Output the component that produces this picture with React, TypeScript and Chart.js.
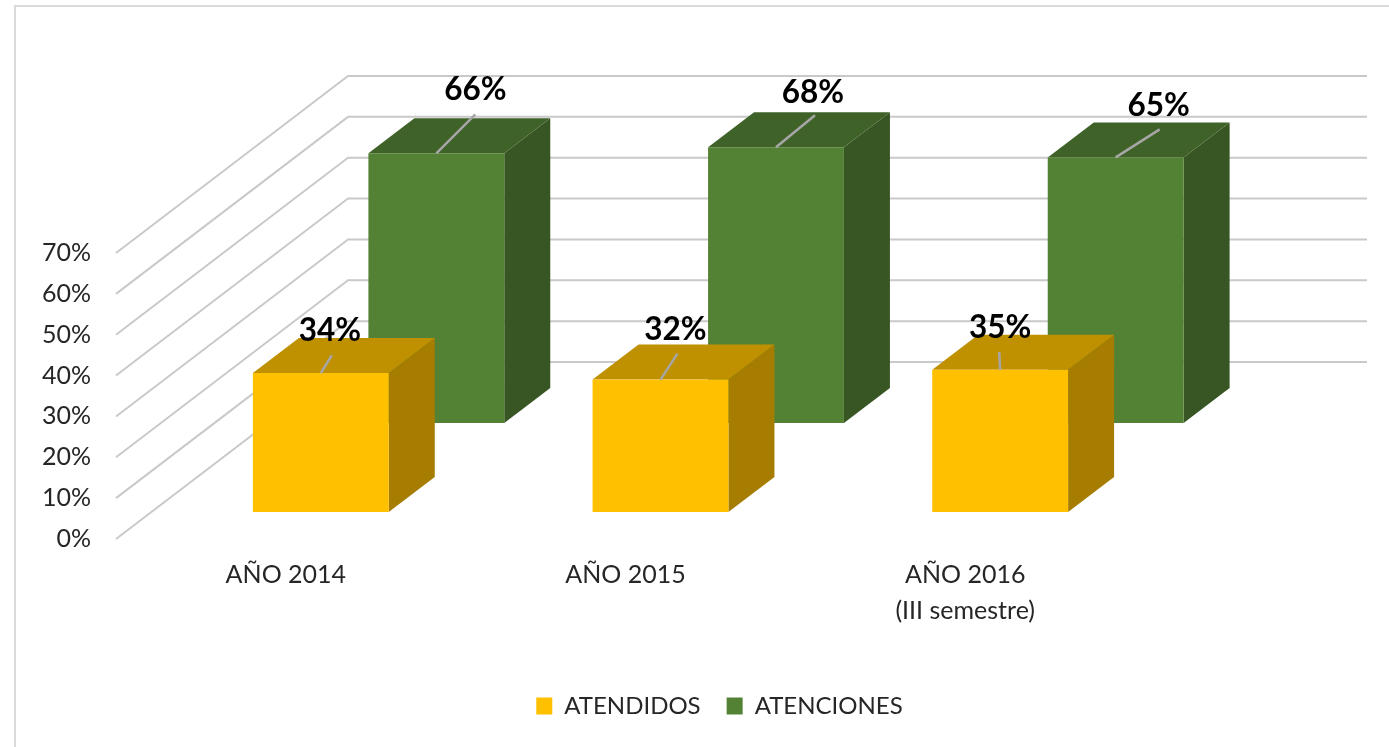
import React, { useEffect, useRef } from "react";
import { Chart, registerables } from "chart.js";

Chart.register(...registerables);

const categories = ["AÑO 2014", "AÑO 2015", ["AÑO 2016", "(III semestre)"]];
const atendidos = [34, 32.4, 34.8];
const atenciones = [66, 67.5, 65];

// Oblique projection and label layout (pixels)
const WALL = { dx: 232, dy: -177 };
const DEPTH = { dx: 46, dy: -35 };
const SERIES_SHIFT = [
  { dx: 35, dy: -27 },
  { dx: 150.5, dy: -116 },
];
const FACE_COLORS = [
  { front: "#FFC000", top: "#BF9000", side: "#A67D00" },
  { front: "#548235", top: "#3F6228", side: "#375623" },
];
const LEADER_ENDS = [
  [[11, -18], [17, -26], [-1, -18]],
  [[39, -39], [39, -32], [44, -28]],
];
const LABEL_OFFSETS = [
  [[9, -42], [15, -50], [0, -42]],
  [[39, -63], [37, -54], [43, -52]],
];

const box3d = {
  id: "box3d",
  beforeDraw(chart: any) {
    const { ctx } = chart;
    ctx.save();
    ctx.strokeStyle = "#D9D9D9";
    ctx.lineWidth = 2;
    ctx.beginPath();
    ctx.moveTo(15, 747);
    ctx.lineTo(15, 6);
    ctx.lineTo(1389, 6);
    ctx.stroke();
    ctx.restore();
  },
  afterLayout(chart: any) {
    const legend = chart.legend;
    legend.left += 152;
    legend.right += 152;
    legend.top -= 19;
    legend.bottom -= 19;
  },
  beforeDatasetsDraw(chart: any) {
    const { ctx, scales } = chart;
    const x = scales.x;
    const y = scales.y;
    ctx.save();
    ctx.strokeStyle = "#C9C9C9";
    ctx.lineWidth = 2;
    ctx.lineJoin = "round";
    y.ticks.forEach((t: any) => {
      const py = y.getPixelForValue(t.value);
      ctx.beginPath();
      ctx.moveTo(x.left, py);
      ctx.lineTo(x.left + WALL.dx, py + WALL.dy);
      ctx.lineTo(x.right + WALL.dx, py + WALL.dy);
      ctx.stroke();
    });
    ctx.restore();
  },
  beforeDatasetDraw(chart: any, args: any) {
    const { ctx } = chart;
    const i = args.index;
    const shift = SERIES_SHIFT[i];
    const colors = FACE_COLORS[i];
    ctx.save();
    ctx.translate(shift.dx, shift.dy);
    args.meta.data.forEach((bar: any) => {
      const { x, y, base, width } = bar.getProps(["x", "y", "base", "width"]);
      const l = x - width / 2;
      const r = x + width / 2;
      ctx.fillStyle = colors.side;
      ctx.beginPath();
      ctx.moveTo(r, y);
      ctx.lineTo(r + DEPTH.dx, y + DEPTH.dy);
      ctx.lineTo(r + DEPTH.dx, base + DEPTH.dy);
      ctx.lineTo(r, base);
      ctx.closePath();
      ctx.fill();
      ctx.fillStyle = colors.top;
      ctx.beginPath();
      ctx.moveTo(l, y);
      ctx.lineTo(l + DEPTH.dx, y + DEPTH.dy);
      ctx.lineTo(r + DEPTH.dx, y + DEPTH.dy);
      ctx.lineTo(r, y);
      ctx.closePath();
      ctx.fill();
    });
  },
  afterDatasetDraw(chart: any) {
    chart.ctx.restore();
  },
  afterDatasetsDraw(chart: any) {
    const { ctx } = chart;
    [1, 0].forEach((i) => {
      const meta = chart.getDatasetMeta(i);
      const shift = SERIES_SHIFT[i];
      meta.data.forEach((bar: any, j: number) => {
        const { x, y } = bar.getProps(["x", "y"]);
        const cx = x + shift.dx;
        const cy = y + shift.dy;
        const end = LEADER_ENDS[i][j];
        const off = LABEL_OFFSETS[i][j];
        ctx.save();
        ctx.strokeStyle = "#A6A6A6";
        ctx.lineWidth = 2.5;
        ctx.beginPath();
        ctx.moveTo(cx, cy);
        ctx.lineTo(cx + end[0], cy + end[1]);
        ctx.stroke();
        ctx.fillStyle = "#000000";
        ctx.font = "bold 31.5px Lato";
        ctx.textAlign = "center";
        ctx.textBaseline = "middle";
        ctx.fillText(Math.round(chart.data.datasets[i].data[j]) + "%", cx + off[0], cy + off[1]);
        ctx.restore();
      });
    });
  },
};

export default function App() {
  const ref = useRef<HTMLCanvasElement>(null);
  useEffect(() => {
    document.body.style.margin = "0";
    const font = { family: "Lato", size: 25 };
    const chart = new Chart(ref.current as HTMLCanvasElement, {
      type: "bar",
      data: {
        labels: categories as any,
        datasets: [
          { label: "ATENDIDOS", data: atendidos, backgroundColor: FACE_COLORS[0].front, clip: false as any },
          { label: "ATENCIONES", data: atenciones, backgroundColor: FACE_COLORS[1].front, clip: false as any },
        ],
      },
      options: {
        animation: false,
        responsive: false,
        grouped: false,
        categoryPercentage: 1,
        barPercentage: 0.4,
        layout: { padding: { top: 253, left: 0, right: 254, bottom: 0 } },
        plugins: {
          tooltip: { enabled: false },
          legend: {
            position: "bottom",
            labels: { boxWidth: 16, boxHeight: 17, padding: 26, color: "#262626", font: { family: "Lato", size: 24 } },
          },
        },
        scales: {
          x: {
            grid: { display: false },
            border: { display: false },
            ticks: {
              color: "#262626",
              font: { ...font, lineHeight: 1.45 },
              padding: 10,
              maxRotation: 0,
              autoSkip: false,
            },
            afterFit: (s: any) => {
              s.height = 148;
            },
          },
          y: {
            min: 0,
            max: 70,
            grid: { display: false, drawTicks: false },
            border: { display: false },
            ticks: {
              stepSize: 10,
              color: "#262626",
              font,
              padding: 25,
              callback: (v: any) => v + "%",
            },
            afterFit: (s: any) => {
              s.width = 116;
            },
          },
        },
      } as any,
      plugins: [box3d as any],
    });
    return () => chart.destroy();
  }, []);
  return (
    <canvas
      ref={ref}
      width={1389}
      height={747}
      style={{ display: "block", width: 1389, height: 747, filter: "blur(0.5px)" }}
    />
  );
}
